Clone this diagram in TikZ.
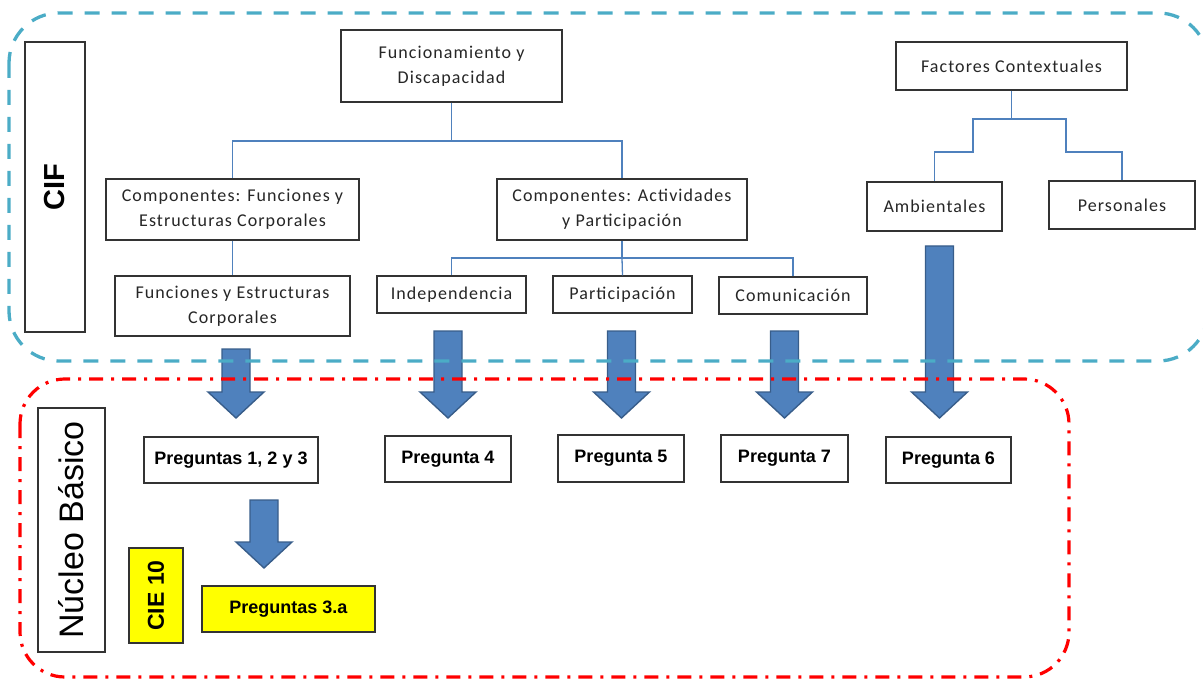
\documentclass[tikz,border=0pt]{standalone}
\usepackage{fontspec}
\newfontfamily\calfont[LetterSpace=6]{Carlito}
\newfontfamily\arfont{Liberation Sans}
\definecolor{frameblue}{HTML}{4BACC6}
\definecolor{linkblue}{HTML}{4F81BD}
\definecolor{arrowfill}{HTML}{4F81BD}
\definecolor{arrowedge}{HTML}{385D8A}
\definecolor{hiyellow}{HTML}{FFFF00}
\definecolor{txtgray}{HTML}{262626}
\tikzset{
  cbox/.style={draw=black!80, line width=1.2pt, fill=white, inner sep=0pt, align=center,
    font=\calfont\fontsize{18}{25}\selectfont, text=txtgray},
  qbox/.style={draw=black!80, line width=1.2pt, fill=white, inner sep=0pt, align=center,
    font=\arfont\bfseries\fontsize{18}{20}\selectfont},
  ybox/.style={qbox, fill=hiyellow},
  link/.style={draw=linkblue, line width=1.3pt},
  fat/.style={fill=arrowfill, draw=arrowedge, line width=1.4pt, line join=miter},
  cifframe/.style={draw=frameblue, line width=3.3pt, dash pattern=on 15pt off 12pt, rounded corners=50pt},
  nucframe/.style={draw=red, line width=3.2pt, dash pattern=on 14pt off 8pt on 3pt off 8pt, rounded corners=45pt},
}
\newcommand\fatarrow[3]{% center x, top y, tip y
  \draw[fat] ({#1-14},#2) -- ({#1+14},#2) -- ({#1+14},{#3-26}) -- ({#1+28},{#3-26})
    -- (#1,#3) -- ({#1-28},{#3-26}) -- ({#1-14},{#3-26}) -- cycle;}
\begin{document}
\begin{tikzpicture}[x=1pt,y=-1pt]
\useasboundingbox (0,0) rectangle (1203,679);
% upper boxes
\node[cbox, minimum width=60, minimum height=290] (cif) at (55,187)
  {\rotatebox{90}{\arfont\bfseries\fontsize{29}{30}\selectfont\color{black}CIF}};
\node[cbox, minimum width=221, minimum height=72] (fyd) at (451.5,66) {Funcionamiento y\\Discapacidad};
\node[cbox, minimum width=253, minimum height=61] (compF) at (232.5,209.5) {Componentes: Funciones y\\Estructuras Corporales};
\node[cbox, minimum width=250, minimum height=61] (compA) at (622,209.5) {Componentes: Actividades\\y Participación};
\node[cbox, minimum width=235, minimum height=60] (fec) at (232.5,306) {Funciones y Estructuras\\Corporales};
\node[cbox, minimum width=149, minimum height=37] (indep) at (451.5,294.5) {Independencia};
\node[cbox, minimum width=139, minimum height=37] (partic) at (622.5,294.5) {Participación};
\node[cbox, minimum width=148, minimum height=37] (comun) at (793,295.5) {Comunicación};
\node[cbox, minimum width=231, minimum height=48] (fact) at (1011.5,66) {Factores Contextuales};
\node[cbox, minimum width=135, minimum height=49] (amb) at (934.5,206.5) {Ambientales};
\node[cbox, minimum width=146, minimum height=48] (pers) at (1122,205) {Personales};
% connectors
\coordinate (j1) at (451.5,141);
\draw[link] (fyd.south) -- (j1) -| (compF.north);
\draw[link] (j1) -| (compA.north);
\draw[link] (compF.south) -- (fec.north);
\coordinate (j2) at (622,258);
\draw[link] (compA.south) -- (j2) -| (indep.north);
\draw[link] (j2) -| (comun.north);
\draw[link] (j2) -- (partic.north);
\coordinate (j3) at (1011.5,119);
\coordinate (j4) at (973,152);
\coordinate (j5) at (1066,152);
\draw[link] (fact.south) -- (j3) -| (j4) -| (amb.north);
\draw[link] (j3) -| (j5) -| (pers.north);
% lower boxes
\node[qbox, minimum width=67, minimum height=244] (nuc) at (71.5,530)
  {\rotatebox{90}{\arfont\mdseries\fontsize{34}{35}\selectfont Núcleo Básico}};
\node[qbox, minimum width=174, minimum height=46] (p123) at (231,460) {Preguntas 1, 2 y 3};
\node[qbox, minimum width=126, minimum height=46] (p4) at (448,459) {Pregunta 4};
\node[qbox, minimum width=126, minimum height=47] (p5) at (621,458.5) {Pregunta 5};
\node[qbox, minimum width=127, minimum height=47] (p7) at (784.5,458.5) {Pregunta 7};
\node[qbox, minimum width=125, minimum height=46] (p6) at (948.5,460) {Pregunta 6};
\node[ybox, minimum width=54, minimum height=95] (cie) at (156,595.5)
  {\rotatebox{90}{\fontsize{23}{24}\selectfont CIE 10}};
\node[ybox, minimum width=173, minimum height=46] (p3a) at (288.5,609) {Preguntas 3.a};
% fat arrows
\fatarrow{236}{349}{418}
\fatarrow{448}{331}{418}
\fatarrow{621.5}{331}{418}
\fatarrow{784.5}{331}{418}
\fatarrow{939.5}{246}{418}
\fatarrow{264}{500}{568}
% frames
\draw[cifframe] (9,13) rectangle (1208,361);
\draw[nucframe] (20,379) rectangle (1069,677);
\end{tikzpicture}
\end{document}
